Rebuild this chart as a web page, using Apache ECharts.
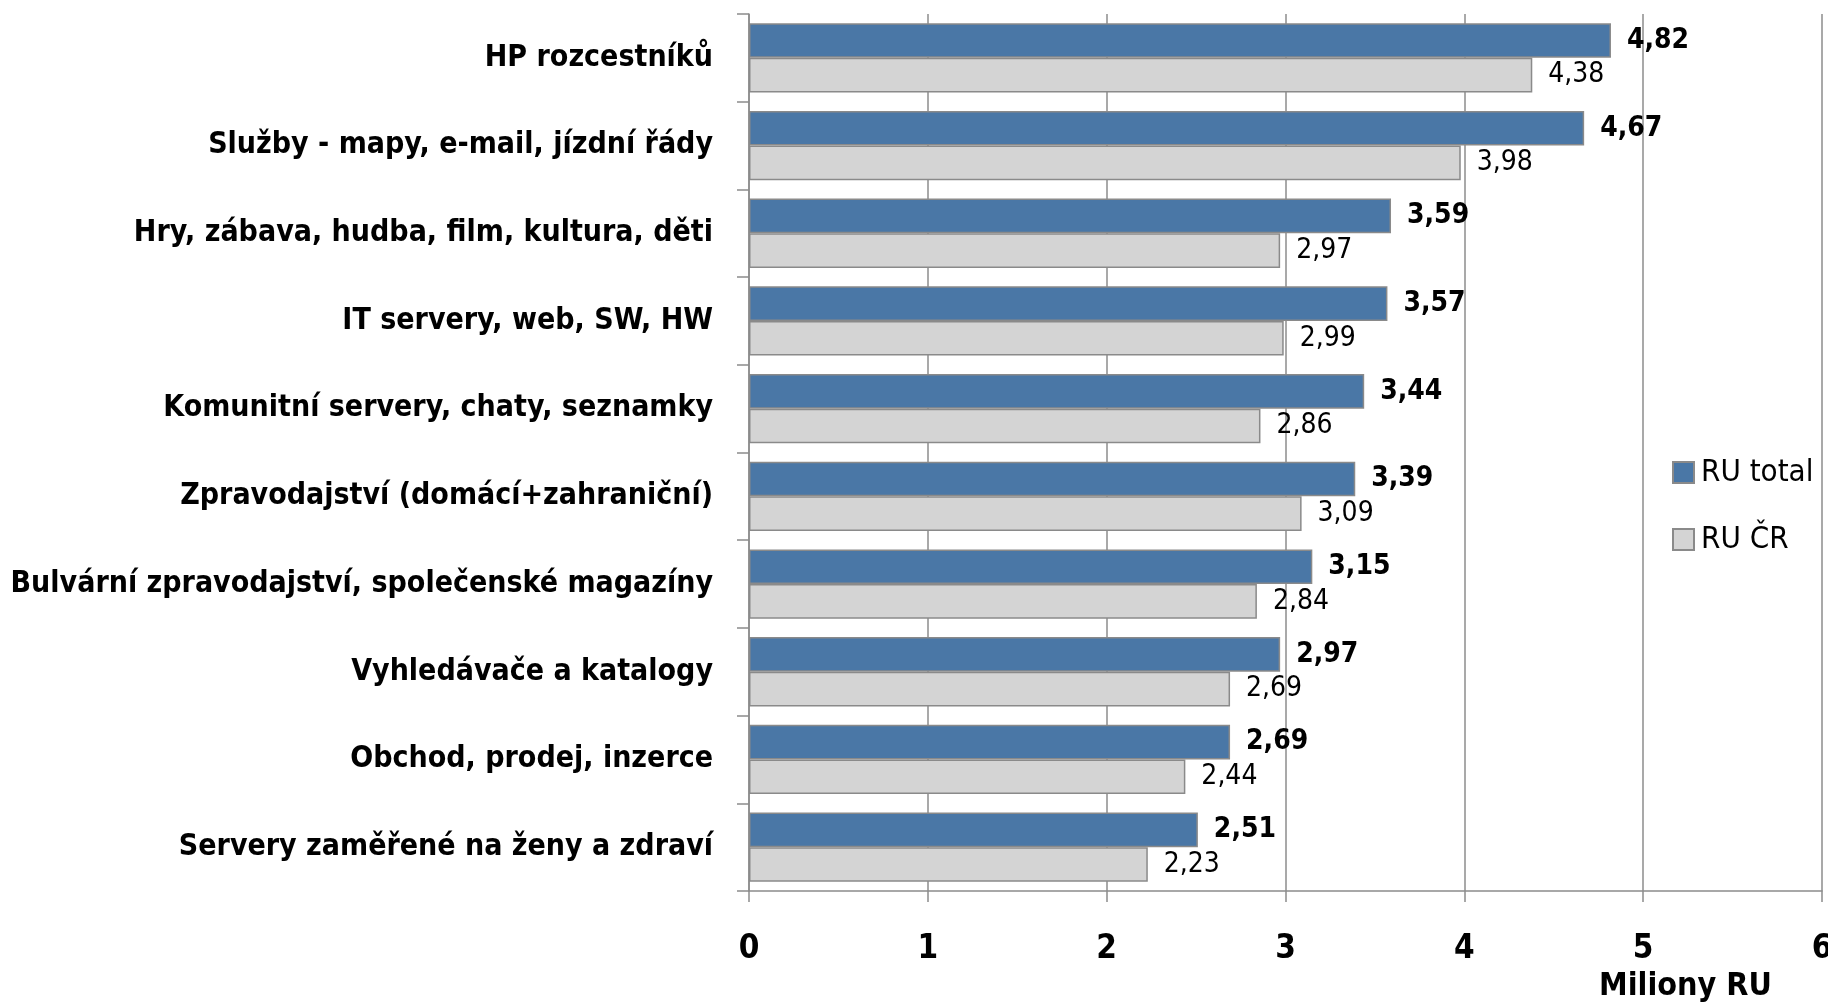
<!DOCTYPE html>
<html><head><meta charset="utf-8">
<script src="https://cdn.jsdelivr.net/npm/echarts@6/dist/echarts.min.js"></script>
<style>html,body{margin:0;padding:0;background:#fff}#c{width:1828px;height:1003px}</style>
</head><body><div id="c"></div>
<script>
const categories = [
  'HP rozcestníků',
  'Služby - mapy, e-mail, jízdní řády',
  'Hry, zábava, hudba, film, kultura, děti',
  'IT servery, web, SW, HW',
  'Komunitní servery, chaty, seznamky',
  'Zpravodajství (domácí+zahraniční)',
  'Bulvární zpravodajství, společenské magazíny',
  'Vyhledávače a katalogy',
  'Obchod, prodej, inzerce',
  'Servery zaměřené na ženy a zdraví'
];
const ruTotal = [4.82, 4.67, 3.59, 3.57, 3.44, 3.39, 3.15, 2.97, 2.69, 2.51];
const ruCR = [4.38, 3.98, 2.97, 2.99, 2.86, 3.09, 2.84, 2.69, 2.44, 2.23];
const seriesNames = ['RU total', 'RU ČR'];
const xTicks = [0, 1, 2, 3, 4, 5, 6];
const axisTitle = 'Miliony RU';

const FONT = "'DejaVu Sans Condensed', 'Liberation Sans', sans-serif";
const fmt = v => v.toFixed(2).replace('.', ',');
const chart = echarts.init(document.getElementById('c'), null, {renderer: 'canvas'});
chart.setOption({
  animation: false,
  backgroundColor: '#fff',
  title: {
    text: axisTitle, left: 1594, top: 966,
    textStyle: {fontFamily: FONT, fontSize: 32, fontWeight: 'bold', color: '#000'}
  },
  legend: {
    orient: 'vertical', left: 1667, top: 452, itemWidth: 21, itemHeight: 21, itemGap: 36,
    icon: 'rect',
    textStyle: {fontFamily: FONT, fontSize: 31, color: '#000', padding: [0,0,0,2]},
    data: seriesNames
  },
  grid: {left: 749, top: 14, right: 6, bottom: 112, containLabel: false, outerBoundsMode: 'none'},
  xAxis: {
    type: 'value', min: xTicks[0], max: xTicks[xTicks.length-1], interval: 1,
    axisLine: {show: true, lineStyle: {color: '#8c8c8c', width: 1.5}},
    axisTick: {show: true, length: 11, lineStyle: {color: '#8c8c8c', width: 1.5}},
    splitLine: {show: true, lineStyle: {color: '#8c8c8c', width: 1.5}},
    axisLabel: {margin: 42, fontFamily: FONT, fontSize: 33, fontWeight: 'bold', color: '#000'}
  },
  yAxis: {
    type: 'category', data: categories, inverse: true,
    axisLine: {show: true, lineStyle: {color: '#8c8c8c', width: 1.5}},
    axisTick: {show: true, length: 12, alignWithLabel: false, lineStyle: {color: '#8c8c8c', width: 1.5}},
    splitLine: {show: false},
    axisLabel: {margin: 36, fontFamily: FONT, fontSize: 30, fontWeight: 'bold', color: '#000'}
  },
  series: [
    {
      name: seriesNames[0], type: 'bar', data: ruTotal,
      barCategoryGap: '21%', barGap: '0%',
      itemStyle: {color: '#4a77a6', borderColor: '#8a8a8a', borderWidth: 1.5},
      label: {show: true, position: 'right', distance: 16, formatter: p => fmt(p.value),
        fontFamily: FONT, fontSize: 28, fontWeight: 'bold', color: '#000'}
    },
    {
      name: seriesNames[1], type: 'bar', data: ruCR,
      barCategoryGap: '21%', barGap: '0%',
      itemStyle: {color: '#d4d4d4', borderColor: '#8a8a8a', borderWidth: 1.5},
      label: {show: true, position: 'right', distance: 16, formatter: p => fmt(p.value),
        fontFamily: FONT, fontSize: 28, fontWeight: 'normal', color: '#000'}
    }
  ]
});
</script></body></html>
